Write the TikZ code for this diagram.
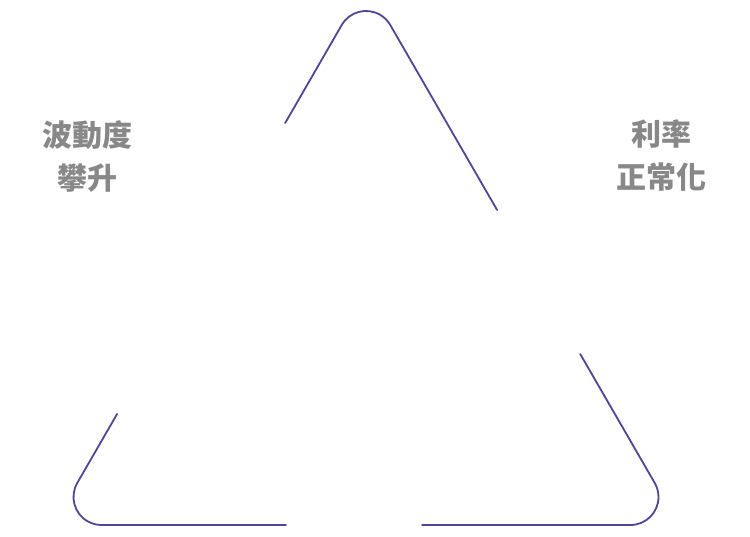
\documentclass[tikz,border=0pt]{standalone}
\usepackage{fontspec}
\newfontfamily\cjk{Noto Sans CJK TC}
\definecolor{lineviolet}{RGB}{82,68,152}
\definecolor{labelgray}{RGB}{136,136,136}
\begin{document}
\begin{tikzpicture}[x=1pt,y=1pt,
  tri/.style={draw=lineviolet,line width=1.8pt,line cap=round},
  lbl/.style={text=labelgray,align=center,font=\cjk\bfseries\fontsize{30}{43}\selectfont,inner sep=0pt}]
\useasboundingbox (0,0) rectangle (750,537);
% gap end points
\coordinate (l1) at (117.1,123);
\coordinate (l2) at (285.2,414);
\coordinate (r1) at (497.1,327);
\coordinate (r2) at (580.2,183);
\coordinate (b1) at (286,12);
\coordinate (b2) at (422,12);
% top corner
\draw[tri] (l2) -- (341.75,512) arc[start angle=150,end angle=30,radius=28] -- (r1);
% bottom left corner
\draw[tri] (l1) -- (77.25,54) arc[start angle=150,end angle=270,radius=28] -- (b1);
% bottom right corner
\draw[tri] (b2) -- (630.5,12) arc[start angle=270,end angle=390,radius=28] -- (r2);
\node[lbl] (vol) at (87,381) {波動度\\攀升};
\node[lbl] (rate) at (661,381) {利率\\正常化};
\end{tikzpicture}
\end{document}
